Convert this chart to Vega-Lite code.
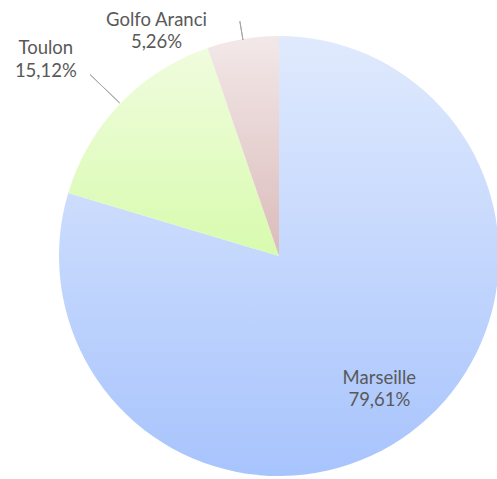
{
  "$schema": "https://vega.github.io/schema/vega-lite/v6.json",
  "width": 558,
  "height": 512,
  "autosize": "none",
  "padding": 0,
  "background": "white",
  "config": {"view": {"stroke": null}},
  "data": {
    "values": [
      {"city": "Marseille", "share": 79.61, "label": "Marseille\n79,61%"},
      {"city": "Toulon", "share": 15.12, "label": "Toulon\n15,12%"},
      {"city": "Golfo Aranci", "share": 5.26, "label": "Golfo Aranci\n5,26%"}
    ]
  },
  "encoding": {
    "theta": {"field": "share", "type": "quantitative", "stack": true},
    "order": {"field": "share", "type": "quantitative", "sort": "descending"}
  },
  "layer": [
    {
      "mark": {"type": "arc", "outerRadius": 220},
      "encoding": {
        "fill": {
          "condition": [
            {"test": "datum.city === 'Toulon'", "value": {"gradient": "linear", "x1": 0, "y1": 0, "x2": 0, "y2": 1, "stops": [{"offset": 0, "color": "#f0fcde"}, {"offset": 1, "color": "#d8fbae"}]}},
            {"test": "datum.city === 'Golfo Aranci'", "value": {"gradient": "linear", "x1": 0, "y1": 0, "x2": 0, "y2": 1, "stops": [{"offset": 0, "color": "#f3e8e8"}, {"offset": 1, "color": "#dbbbbb"}]}}
          ],
          "value": {"gradient": "linear", "x1": 0, "y1": 0, "x2": 0, "y2": 1, "stops": [{"offset": 0, "color": "#e0eafd"}, {"offset": 1, "color": "#a8c4fd"}]}
        }
      }
    },
    {
      "mark": {"type": "arc", "outerRadius": 262, "innerRadius": 221, "padAngle": 3, "fill": null, "stroke": "#a6a6a6", "strokeWidth": 1},
      "encoding": {
        "strokeOpacity": {"condition": {"test": "datum.city === 'Toulon'", "value": 1}, "value": 0}
      }
    },
    {
      "mark": {"type": "arc", "outerRadius": 238, "innerRadius": 219, "padAngle": 3, "fill": null, "stroke": "#a6a6a6", "strokeWidth": 1},
      "encoding": {
        "strokeOpacity": {"condition": {"test": "datum.city === 'Golfo Aranci'", "value": 1}, "value": 0}
      }
    },
    {
      "mark": {"type": "text", "radius": 168, "dy": -13, "font": "Lato", "fontSize": 18.5, "fill": "#595959", "lineBreak": "\n", "lineHeight": 22, "align": "center", "baseline": "middle"},
      "encoding": {
        "text": {"condition": {"test": "datum.city === 'Marseille'", "field": "label"}, "value": ""}
      }
    },
    {
      "mark": {"type": "text", "radius": 308, "dx": -11, "dy": 5, "font": "Lato", "fontSize": 18.5, "fill": "#595959", "lineBreak": "\n", "lineHeight": 23, "align": "center", "baseline": "middle"},
      "encoding": {
        "text": {"condition": {"test": "datum.city === 'Toulon'", "field": "label"}, "value": ""}
      }
    },
    {
      "mark": {"type": "text", "radius": 240, "dx": -83, "dy": 1, "font": "Lato", "fontSize": 18.5, "fill": "#595959", "lineBreak": "\n", "lineHeight": 22, "align": "center", "baseline": "middle"},
      "encoding": {
        "text": {"condition": {"test": "datum.city === 'Golfo Aranci'", "field": "label"}, "value": ""}
      }
    }
  ]
}
